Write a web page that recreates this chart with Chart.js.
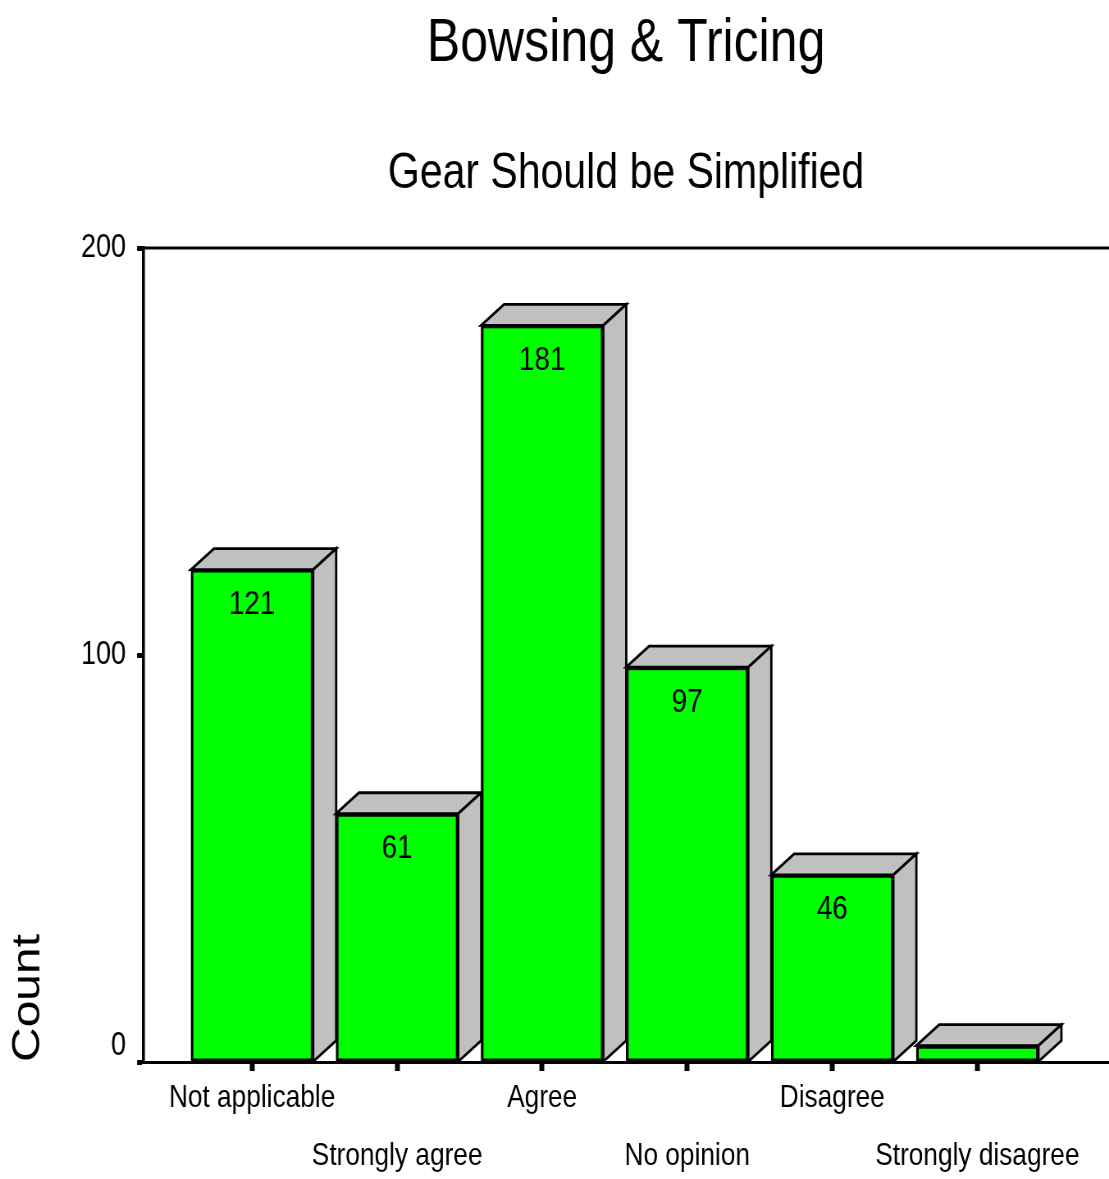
<!DOCTYPE html>
<html>
<head>
<meta charset="utf-8">
<title>Bowsing &amp; Tricing</title>
<script src="https://cdn.jsdelivr.net/npm/chart.js@4.4.1/dist/chart.umd.min.js"></script>
<style>
  html, body { margin: 0; padding: 0; background: #ffffff; overflow: hidden; }
  /* the chart is laid out on a wider canvas and squeezed horizontally,
     which gives the tall, narrow lettering of the original SPSS output */
  #wrap {
    width: 1352px;
    height: 1179px;
    position: absolute;
    left: 0;
    top: 0;
    transform: scaleX(0.8203);
    transform-origin: 0 0;
  }
</style>
</head>
<body>
<div id="wrap"><canvas id="chart"></canvas></div>
<script>
// Survey responses: "Gear Should be Simplified"
const categories = ['Not applicable', 'Strongly agree', 'Agree', 'No opinion', 'Disagree', 'Strongly disagree'];
const counts = [121, 61, 181, 97, 46, 4];
const yTicks = [0, 100, 200];
const chartTitle = 'Bowsing & Tricing';
const chartSubtitle = 'Gear Should be Simplified';
const yAxisTitle = 'Count';

const FONT = "'Liberation Sans', Arial, sans-serif";
const FRONT = '#00ff00';
const SIDE = '#c0c0c0';
const DEPTH_X = 28;   // widened canvas units
const DEPTH_Y = 21;

// Grey top and side faces behind each bar, value labels, and the titles
const boxFaces = {
  id: 'boxFaces',
  beforeDatasetsDraw(chart) {
    const ctx = chart.ctx;
    const area = chart.chartArea;
    ctx.save();
    // frame line along the top of the plot area
    ctx.strokeStyle = '#000';
    ctx.lineWidth = 3;
    ctx.beginPath();
    ctx.moveTo(area.left, area.top);
    ctx.lineTo(area.right, area.top);
    ctx.stroke();

    ctx.fillStyle = SIDE;
    ctx.lineWidth = 2.8;
    ctx.lineJoin = 'miter';
    chart.getDatasetMeta(0).data.forEach(bar => {
      const { x, y, base, width } = bar.getProps(['x', 'y', 'base', 'width'], true);
      const l = x - width / 2, r = x + width / 2;
      ctx.beginPath();
      ctx.moveTo(l, y);
      ctx.lineTo(l + DEPTH_X, y - DEPTH_Y);
      ctx.lineTo(r + DEPTH_X, y - DEPTH_Y);
      ctx.lineTo(r, y);
      ctx.closePath();
      ctx.fill();
      ctx.stroke();
      ctx.beginPath();
      ctx.moveTo(r, y);
      ctx.lineTo(r + DEPTH_X, y - DEPTH_Y);
      ctx.lineTo(r + DEPTH_X, base - DEPTH_Y);
      ctx.lineTo(r, base);
      ctx.closePath();
      ctx.fill();
      ctx.stroke();
    });
    ctx.restore();
  },
  afterDatasetsDraw(chart) {
    const ctx = chart.ctx;
    ctx.save();
    ctx.fillStyle = '#000';
    ctx.font = `34px ${FONT}`;
    ctx.textAlign = 'center';
    ctx.textBaseline = 'middle';
    chart.getDatasetMeta(0).data.forEach((bar, i) => {
      const { x, y, base } = bar.getProps(['x', 'y', 'base'], true);
      if (base - y < 50) return; // too short to hold its label
      ctx.fillText(String(counts[i]), x, y + 35);
    });
    ctx.restore();
  },
  afterDraw(chart) {
    const ctx = chart.ctx;
    const area = chart.chartArea;
    const cx = (area.left + area.right) / 2;
    ctx.save();
    ctx.fillStyle = '#000';
    ctx.textAlign = 'center';
    ctx.textBaseline = 'middle';
    ctx.font = `61px ${FONT}`;
    ctx.fillText(chartTitle, cx, 44);
    ctx.font = `50px ${FONT}`;
    ctx.fillText(chartSubtitle, cx, 174);
    ctx.restore();
  }
};

new Chart(document.getElementById('chart'), {
  type: 'bar',
  data: {
    datasets: [{
      data: counts.map((v, i) => ({ x: i, y: v })),
      backgroundColor: FRONT,
      borderColor: '#000',
      borderWidth: 3.3,
      borderSkipped: false,
      barThickness: 149
    }]
  },
  options: {
    responsive: true,
    maintainAspectRatio: false,
    animation: false,
    layout: { padding: { top: 248, left: 0, right: 0, bottom: 0 } },
    plugins: {
      legend: { display: false },
      tooltip: { enabled: false },
      title: { display: false }
    },
    scales: {
      x: {
        type: 'linear',
        position: 'bottom',
        offset: false,
        min: -0.7515,
        max: 5.908,
        afterBuildTicks: s => { s.ticks = categories.map((_, i) => ({ value: i })); },
        afterFit: s => { s.height = 117; },
        grid: { display: true, offset: false, drawOnChartArea: false, drawTicks: true, tickLength: 9, tickWidth: 6, tickColor: '#000' },
        border: { display: true, color: '#000', width: 3 },
        ticks: {
          autoSkip: false,
          maxRotation: 0,
          minRotation: 0,
          padding: -2,
          color: '#000',
          font: { family: FONT, size: 32, lineHeight: 1.82 },
          callback: (v, i) => (i % 2 ? ['', categories[i]] : categories[i])
        }
      },
      y: {
        min: 0,
        max: 200,
        afterBuildTicks: s => { s.ticks = yTicks.map(v => ({ value: v })); },
        afterFit: s => { s.width = 174.4; },
        grid: { display: true, drawOnChartArea: false, drawTicks: true, tickLength: 7.3, tickWidth: 5, tickColor: '#000' },
        border: { display: true, color: '#000', width: 3.6 },
        ticks: {
          padding: 13.4,
          color: '#000',
          font: { family: FONT, size: 33, lineHeight: 1.0 },
          callback: v => (v === 0 ? ['0', ''] : String(v))
        },
        title: {
          display: true,
          text: yAxisTitle,
          align: 'start',
          color: '#000',
          font: { family: FONT, size: 48, lineHeight: 1.2 },
          padding: { top: 6, bottom: 0 }
        }
      }
    }
  },
  plugins: [boxFaces]
});
</script>
</body>
</html>
